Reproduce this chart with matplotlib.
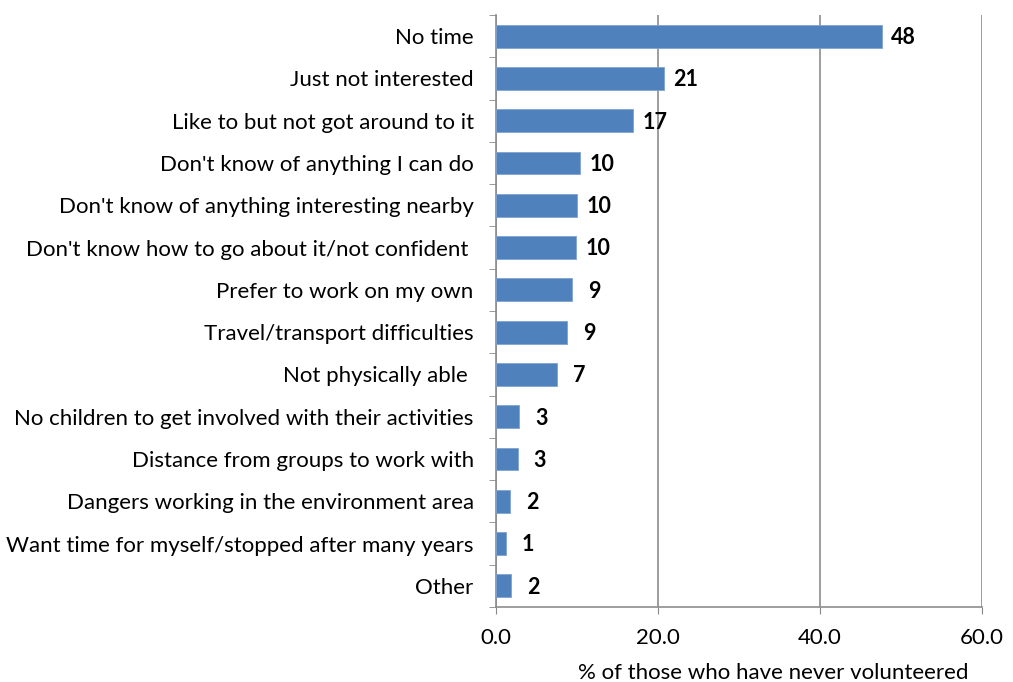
import matplotlib.pyplot as plt
from matplotlib.ticker import FormatStrFormatter, FixedLocator

# Reasons for never volunteering
reasons = ["No time", "Just not interested", "Like to but not got around to it",
           "Don't know of anything I can do", "Don't know of anything interesting nearby",
           "Don't know how to go about it/not confident ", "Prefer to work on my own",
           "Travel/transport difficulties", "Not physically able ",
           "No children to get involved with their activities",
           "Distance from groups to work with", "Dangers working in the environment area",
           "Want time for myself/stopped after many years", "Other"]
values = [47.6, 20.7, 16.9, 10.4, 10.0, 9.9, 9.4, 8.8, 7.5, 2.9, 2.7, 1.7, 1.2, 1.9]
labels = ["48", "21", "17", "10", "10", "10", "9", "9", "7", "3", "3", "2", "1", "2"]

plt.rcParams['font.family'] = ['Lato', 'DejaVu Sans']

fig = plt.figure(figsize=(10.13, 6.82), dpi=100)
ax = fig.add_axes([0.4896, 0.110, 0.4798, 0.868])

pos = list(range(len(reasons)))
ax.barh(pos, values, height=0.54, color='#4F81BD', edgecolor='#7FA3D0', linewidth=0.6, zorder=3)
for p, v, lab in zip(pos, values, labels):
    ax.annotate(lab, (v, p), xytext=(16, -1), textcoords='offset points',
                ha='center', va='center', fontsize=15.5, fontweight='bold', color='black')

ax.set_ylim(len(reasons) - 0.5, -0.5)
ax.set_xlim(0, 60)
ax.set_xticks([0, 20, 40, 60])
ax.xaxis.set_major_formatter(FormatStrFormatter('%.1f'))
ax.set_yticks(pos)
ax.set_yticklabels(reasons, fontsize=16)
ax.yaxis.set_minor_locator(FixedLocator([p - 0.5 for p in pos] + [len(reasons) - 0.5]))
ax.tick_params(axis='y', which='major', length=0, pad=16)
ax.tick_params(axis='y', which='minor', length=5, color='#888888', direction='out')
ax.tick_params(axis='x', length=5, color='#888888', labelsize=16, pad=10)

ax.grid(axis='x', color='#8C8C8C', linewidth=1.2, zorder=0)
for s in ['top', 'right']:
    ax.spines[s].set_visible(False)
for s in ['left', 'bottom']:
    ax.spines[s].set_color('#8C8C8C')
    ax.spines[s].set_linewidth(1.2)

ax.set_xlabel("% of those who have never volunteered", fontsize=16)
ax.xaxis.set_label_coords(0.57, -0.095)

fig.savefig("out.png", dpi=100)
